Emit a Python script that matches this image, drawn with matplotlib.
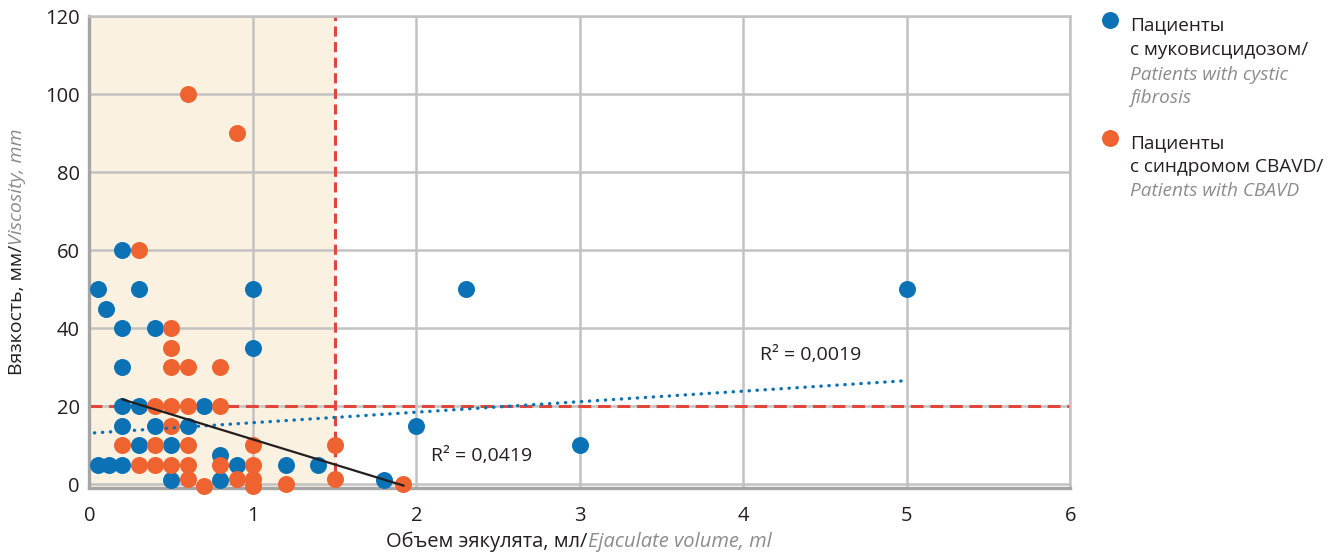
import matplotlib
matplotlib.use("Agg")
import matplotlib.pyplot as plt
from matplotlib.lines import Line2D

plt.rcParams['font.family'] = ['Open Sans', 'DejaVu Sans']

# ---------------- data ----------------
# Patients with cystic fibrosis (blue)
cf_x = [0.05, 0.1, 0.2, 0.3, 1.0, 0.2, 0.4, 1.0, 0.2, 0.2, 0.3, 0.7,
        0.2, 0.4, 0.6, 0.3, 0.5, 0.05, 0.12, 0.2, 0.8, 0.9, 1.2, 1.4,
        0.5, 0.8, 1.8, 2.0, 2.3, 3.0, 5.0]
cf_y = [50, 45, 60, 50, 50, 40, 40, 35, 30, 20, 20, 20,
        15, 15, 15, 10, 10, 5, 5, 5, 7.5, 5, 5, 5,
        1, 1, 1, 15, 50, 10, 50]

# Patients with CBAVD (orange)
cb_x = [0.6, 0.9, 0.3, 0.5, 0.5, 0.5, 0.6, 0.8, 0.4, 0.5, 0.6, 0.8,
        0.5, 0.2, 0.4, 0.6, 1.0, 1.5, 0.3, 0.4, 0.5, 0.6, 0.8, 1.0,
        0.6, 0.9, 1.0, 1.5, 0.7, 1.0, 1.2, 1.92]
cb_y = [100, 90, 60, 40, 35, 30, 30, 30, 20, 20, 20, 20,
        15, 10, 10, 10, 10, 10, 5, 5, 5, 5, 5, 5,
        1.5, 1.5, 1.5, 1.5, -0.5, -0.5, 0, 0]

# Trend lines (end points)
trend_cf_x = [0.03, 5.0]
trend_cf_y = [13.2, 26.6]
trend_cb_x = [0.2, 1.92]
trend_cb_y = [21.8, -0.3]
r2_cf = "R² = 0,0019"
r2_cb = "R² = 0,0419"

volume_threshold = 1.5
viscosity_threshold = 20

x_ticks = [0, 1, 2, 3, 4, 5, 6]
y_ticks = [0, 20, 40, 60, 80, 100, 120]

# ---------------- style ----------------
BLUE = "#0B73B5"
ORANGE = "#EE6330"
RED = "#E0473A"
GRID = "#C2C2C2"
SPINE = "#A5A5A5"
SHADE = "#FBF1E1"
BLACK = "#231F20"
GRAY = "#8C8C8C"
FS_TICK = 14.5
FS_LEG = 13.7
FS_R2 = 14
FS_XL = 14.5
FS_YL = 14

W, H = 1336, 554
fig = plt.figure(figsize=(W / 100, H / 100), dpi=100)
ax_l, ax_r, ax_t, ax_b = 89.5, 1070.5, 16.3, 487.5
ax = fig.add_axes([ax_l / W, 1 - ax_b / H, (ax_r - ax_l) / W, (ax_b - ax_t) / H])

ax.set_xlim(0, 6)
ax.set_ylim(-0.8, 120)
ax.set_xticks(x_ticks)
ax.set_yticks(y_ticks)
ax.tick_params(axis='both', length=0, labelsize=FS_TICK, colors=BLACK)
ax.tick_params(axis='x', pad=13)
ax.tick_params(axis='y', pad=7)

ax.axvspan(0, volume_threshold, color=SHADE, zorder=0, lw=0)
ax.grid(True, color=GRID, lw=1.8, zorder=1)
ax.set_axisbelow(True)
for side in ['top', 'right']:
    ax.spines[side].set_color(GRID)
    ax.spines[side].set_linewidth(1.8)
for side in ['left', 'bottom']:
    ax.spines[side].set_color(SPINE)
    ax.spines[side].set_linewidth(2.4)

ax.axvline(volume_threshold, color=RED, lw=2.2, ls=(0, (3.3, 1.8)), zorder=2)
ax.axhline(viscosity_threshold, color=RED, lw=2.2, ls=(0, (4.2, 2.2)), zorder=2)

ax.scatter(cf_x, cf_y, s=150, color=BLUE, lw=0, zorder=3, clip_on=False)
ax.scatter(cb_x, cb_y, s=150, color=ORANGE, lw=0, zorder=4, clip_on=False)

ax.plot(trend_cf_x, trend_cf_y, color=BLUE, lw=2.4, ls=(0, (0.1, 2.3)),
        dash_capstyle='round', zorder=5)
ax.plot(trend_cb_x, trend_cb_y, color=BLACK, lw=1.6, zorder=5)

ax.text(2.09, 7.3, r2_cb, fontsize=FS_R2, color=BLACK, va='center', ha='left', zorder=6)
ax.text(4.1, 33.2, r2_cf, fontsize=FS_R2, color=BLACK, va='center', ha='left', zorder=6)

# ---------------- mixed-style axis labels ----------------
renderer = fig.canvas.get_renderer()


def measure(s, fs, **kw):
    t = fig.text(0, 0, s, fontsize=fs, **kw)
    w = t.get_window_extent(renderer).width
    t.remove()
    return w


def mixed(parts, cx, cy, fs, rotation=0):
    widths = [measure(s, fs, **kw) for s, kw in parts]
    total = sum(widths)
    pos = -total / 2
    for (s, kw), w in zip(parts, widths):
        if rotation == 0:
            fig.text((cx + pos) / W, 1 - cy / H, s, fontsize=fs,
                     ha='left', va='baseline', **kw)
        else:
            fig.text(cx / W, 1 - (cy - pos) / H, s, fontsize=fs,
                     rotation=90, rotation_mode='anchor',
                     ha='left', va='baseline', **kw)
        pos += w


mixed([("Объем эякулята, мл/", dict(color=BLACK)),
       ("Ejaculate volume, ml", dict(color=GRAY, style='italic'))],
      579, 547, FS_XL)
mixed([("Вязкость, мм/", dict(color=BLACK)),
       ("Viscosity, mm", dict(color=GRAY, style='italic'))],
      22, 251.5, FS_YL, rotation=90)

# ---------------- legend ----------------
for color, py in [(BLUE, 20), (ORANGE, 138)]:
    fig.add_artist(Line2D([1110 / W], [1 - py / H], marker='o', markersize=12.2,
                          color=color, markeredgewidth=0, transform=fig.transFigure))

legend_lines = [
    ("Пациенты", BLACK, 'normal', 30.5),
    ("с муковисцидозом/", BLACK, 'normal', 55),
    ("Patients with cystic", GRAY, 'italic', 79.5),
    ("fibrosis", GRAY, 'italic', 103),
    ("Пациенты", BLACK, 'normal', 148),
    ("с синдромом CBAVD/", BLACK, 'normal', 172.5),
    ("Patients with CBAVD", GRAY, 'italic', 196),
]
for s, c, st, py in legend_lines:
    fig.text(1130.5 / W, 1 - py / H, s, fontsize=FS_LEG, color=c, style=st,
             ha='left', va='baseline')

fig.savefig("out.png", dpi=100)
